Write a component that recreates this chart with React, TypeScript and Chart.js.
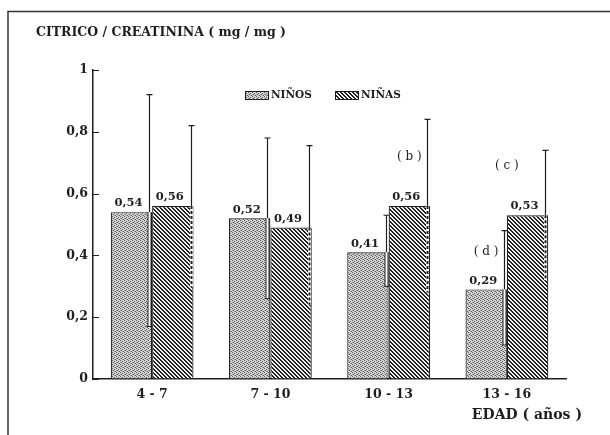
import React, { useEffect, useRef } from "react";
import { Chart, registerables } from "chart.js";
Chart.register(...registerables);

const categories = ["4 - 7", "7 - 10", "10 - 13", "13 - 16"];
const seriesNames = ["NIÑOS", "NIÑAS"];
const ninos = [0.54, 0.52, 0.41, 0.29];
const ninas = [0.56, 0.49, 0.56, 0.53];
const ninosUpper = [0.92, 0.78, 0.53, 0.48];
const ninosLower = [0.17, 0.26, 0.3, 0.11];
const ninasUpper = [0.82, 0.755, 0.84, 0.74];
const ninasLower = [0.3, 0.24, 0.28, 0.32];
const yTicks = [0, 0.2, 0.4, 0.6, 0.8, 1];
const noteTexts = ["( b )", "( c )", "( d )"];
const noteCats = [2, 3, 3];
const noteSeries = [1, -1, 0];
const noteValues = [0.72, 0.69, 0.41];
const yTitle = "CITRICO / CREATININA ( mg / mg )";
const xTitle = "EDAD ( años )";

const FONT = "'DejaVu Serif', serif";
const INK = "#1e1e1e";

function stipplePattern(): CanvasPattern {
  const c = document.createElement("canvas");
  c.width = 4;
  c.height = 4;
  const g = c.getContext("2d")!;
  g.fillStyle = "#d6d6d6";
  g.fillRect(0, 0, 4, 4);
  g.fillStyle = "#5a5a5a";
  g.fillRect(0, 0, 1, 1);
  g.fillRect(2, 1, 1, 1);
  g.fillRect(1, 2, 1, 1);
  g.fillRect(3, 3, 1, 1);
  g.fillStyle = "#a0a0a0";
  g.fillRect(2, 3, 1, 1);
  g.fillRect(0, 2, 1, 1);
  return g.createPattern(c, "repeat")!;
}

function hatchPattern(): CanvasPattern {
  const c = document.createElement("canvas");
  c.width = 4;
  c.height = 4;
  const g = c.getContext("2d")!;
  g.fillStyle = "#f0f0f0";
  g.fillRect(0, 0, 4, 4);
  g.fillStyle = "#222";
  for (let i = 0; i < 4; i++) {
    g.fillRect(i, i, 1, 1);
    g.fillRect((i + 1) % 4, i, 1, 1);
  }
  return g.createPattern(c, "repeat")!;
}

const fmt = (v: number) => v.toFixed(2).replace(".", ",");
const fmtTick = (v: number) =>
  v === 0 || v === 1 ? String(v) : String(Math.round(v * 10) / 10).replace(".", ",");

const overlay = {
  id: "overlay",
  afterDraw(chart: any) {
    const ctx = chart.ctx as CanvasRenderingContext2D;
    const ys = chart.scales.y;
    const xs = chart.scales.x;
    const area = chart.chartArea;
    ctx.save();
    // outer frame (top + left)
    ctx.strokeStyle = "#333";
    ctx.lineWidth = 1.5;
    ctx.beginPath();
    ctx.moveTo(8, 440);
    ctx.lineTo(8, 11.5);
    ctx.lineTo(615, 11.5);
    ctx.stroke();

    // y title
    ctx.fillStyle = INK;
    ctx.font = `bold 12.5px ${FONT}`;
    ctx.textAlign = "left";
    ctx.textBaseline = "middle";
    ctx.fillText(yTitle, 36, 33);

    // inward y ticks
    ctx.strokeStyle = INK;
    ctx.lineWidth = 1;
    yTicks.forEach((t) => {
      const py = Math.round(ys.getPixelForValue(t)) + 0.5;
      ctx.beginPath();
      ctx.moveTo(area.left, py);
      ctx.lineTo(area.left + 6, py);
      ctx.stroke();
    });

    // x title
    ctx.font = `bold 14px ${FONT}`;
    ctx.textAlign = "right";
    ctx.fillText(xTitle, 582, 415);

    // legend
    const legendX = [245, 335];
    chart.data.datasets.forEach((ds: any, i: number) => {
      const lx = legendX[i];
      ctx.fillStyle = ds.backgroundColor;
      ctx.fillRect(lx, 91, 23, 8);
      ctx.strokeStyle = INK;
      ctx.lineWidth = 1;
      ctx.strokeRect(lx + 0.5, 91.5, 23, 8);
      ctx.fillStyle = INK;
      ctx.font = `bold 10.5px ${FONT}`;
      ctx.textAlign = "left";
      ctx.textBaseline = "middle";
      ctx.fillText(seriesNames[i], lx + 26, 95.5);
    });

    // error bars + value labels
    const uppers = [ninosUpper, ninasUpper];
    const lowers = [ninosLower, ninasLower];
    chart.data.datasets.forEach((ds: any, di: number) => {
      const meta = chart.getDatasetMeta(di);
      meta.data.forEach((bar: any, i: number) => {
        const right = bar.x + bar.width / 2;
        const ex = Math.round(right - 3) + 0.5;
        const yTop = bar.y;
        const yU = ys.getPixelForValue(uppers[di][i]);
        const yL = ys.getPixelForValue(lowers[di][i]);
        ctx.strokeStyle = INK;
        ctx.lineWidth = 1.2;
        ctx.setLineDash([]);
        ctx.beginPath();
        ctx.moveTo(ex, yTop);
        ctx.lineTo(ex, yU);
        ctx.moveTo(ex - 3, yU);
        ctx.lineTo(ex + 3, yU);
        ctx.stroke();
        // lower part inside bar
        if (di === 0) {
          ctx.fillStyle = "#fff";
          ctx.fillRect(ex - 1.5, yTop, 3, yL - yTop);
          ctx.beginPath();
          ctx.moveTo(ex - 1.5, yTop);
          ctx.lineTo(ex - 1.5, yL);
          ctx.moveTo(ex + 1.5, yTop);
          ctx.lineTo(ex + 1.5, yL);
          ctx.moveTo(ex - 3, yL);
          ctx.lineTo(ex + 3, yL);
          ctx.lineWidth = 1;
          ctx.stroke();
        } else {
          ctx.fillStyle = "#fff";
          ctx.fillRect(ex - 1.5, yTop, 3, yL - yTop);
          ctx.setLineDash([3, 2]);
          ctx.lineWidth = 2;
          ctx.beginPath();
          ctx.moveTo(ex, yTop);
          ctx.lineTo(ex, yL);
          ctx.stroke();
          ctx.setLineDash([]);
        }
        // value label
        ctx.fillStyle = INK;
        ctx.font = `bold 11.5px ${FONT}`;
        ctx.textAlign = "center";
        ctx.textBaseline = "bottom";
        ctx.fillText(fmt(ds.data[i]), bar.x - 3, yTop - 3);
      });
    });

    // notes
    ctx.fillStyle = INK;
    ctx.font = `12px ${FONT}`;
    ctx.textAlign = "center";
    ctx.textBaseline = "middle";
    noteTexts.forEach((t, k) => {
      const c = noteCats[k];
      let px: number;
      if (noteSeries[k] < 0) px = xs.getPixelForValue(c);
      else px = chart.getDatasetMeta(noteSeries[k]).data[c].x;
      ctx.fillText(t, px, ys.getPixelForValue(noteValues[k]));
    });
    ctx.restore();
  },
};

export default function App() {
  const ref = useRef<HTMLCanvasElement>(null);
  useEffect(() => {
    document.body.style.margin = "0";
    const chart = new Chart(ref.current!, {
      type: "bar",
      data: {
        labels: categories,
        datasets: [
          {
            label: seriesNames[0],
            data: ninos,
            backgroundColor: stipplePattern() as any,
            borderColor: INK,
            borderWidth: 1.2,
          },
          {
            label: seriesNames[1],
            data: ninas,
            backgroundColor: hatchPattern() as any,
            borderColor: INK,
            borderWidth: 1.2,
          },
        ],
      },
      options: {
        responsive: false,
        animation: false,
        events: [],
        layout: { padding: { left: 0, right: 44, top: 70, bottom: 0 } },
        plugins: { legend: { display: false }, tooltip: { enabled: false }, title: { display: false } },
        datasets: { bar: { categoryPercentage: 0.7, barPercentage: 1 } },
        scales: {
          x: {
            grid: { display: true, drawOnChartArea: false, drawTicks: false },
            border: { display: true, color: INK, width: 1.5 },
            ticks: {
              color: INK,
              font: { family: FONT, size: 12.5, weight: "bold" },
              padding: 8,
            },
            afterFit: (s: any) => {
              s.height = 56;
            },
          },
          y: {
            min: 0,
            max: 1,
            afterBuildTicks: (s: any) => {
              s.ticks = yTicks.map((v) => ({ value: v }));
            },
            grid: { display: true, drawOnChartArea: false, drawTicks: false },
            border: { display: true, color: INK, width: 1.5 },
            ticks: {
              color: INK,
              font: { family: FONT, size: 12.5, weight: "bold" },
              padding: 5,
              callback: (v: any) => fmtTick(Number(v)),
            },
            afterFit: (s: any) => {
              s.width = 93;
            },
          },
        },
      } as any,
      plugins: [overlay],
    });
    return () => chart.destroy();
  }, []);
  return <canvas ref={ref} width={610} height={435} style={{ display: "block" }} />;
}
